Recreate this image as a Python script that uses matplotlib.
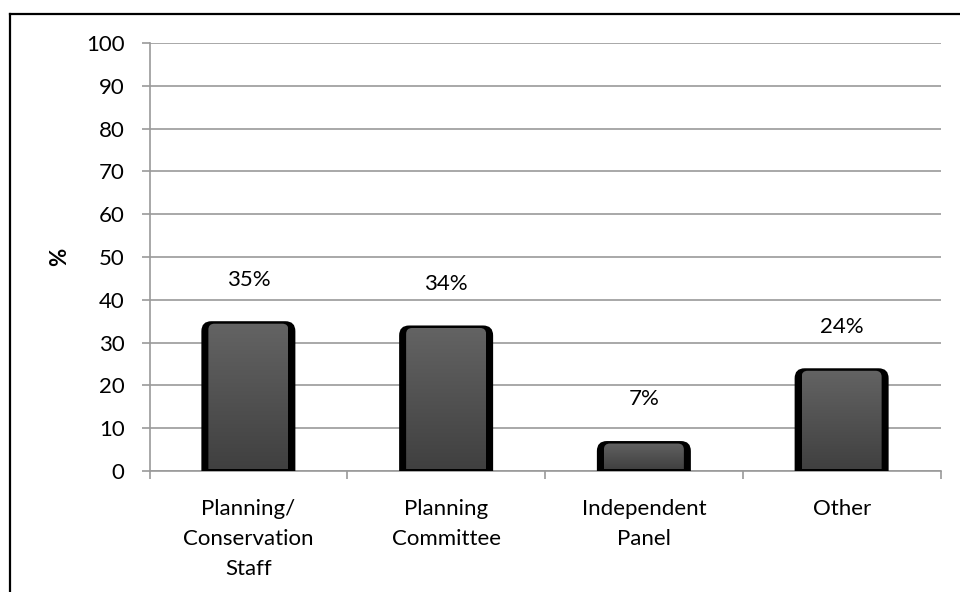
import numpy as np
import matplotlib.pyplot as plt
from matplotlib.patches import FancyBboxPatch
from matplotlib.lines import Line2D
from matplotlib.colors import LinearSegmentedColormap

categories = ['Planning/\nConservation\nStaff', 'Planning\nCommittee', 'Independent\nPanel', 'Other']
values = [35, 34, 7, 24]
value_labels = ['35%', '34%', '7%', '24%']
yticks = list(range(0, 101, 10))

plt.rcParams['font.family'] = ['Lato', 'DejaVu Sans']
fs = 16

fig = plt.figure(figsize=(9.6, 5.92), dpi=100)
ax = fig.add_axes([149.5 / 960, 1 - 471 / 592, 791 / 960, 428 / 592])
ax.set_xlim(-0.5, 3.5)
ax.set_ylim(0, 100)

# pixel scale of one data unit, used for rounded corners and edge widths
px_x = 791 / 4
px_y = 428 / 100
aspect = px_x / px_y

width = 94 / px_x
side = 7 / px_x
top = 2.5 / px_y
grad = np.linspace(0, 1, 256).reshape(-1, 1)
cmap = LinearSegmentedColormap.from_list('bar', ['#404040', '#646464'])

for i, v in enumerate(values):
    x0 = i - width / 2
    outer = FancyBboxPatch((x0, -5), width, v + 5,
                           boxstyle=f'round,pad=0,rounding_size={10 / px_x}',
                           mutation_aspect=aspect, fc='black', ec='none', zorder=3)
    ax.add_patch(outer)
    inner = FancyBboxPatch((x0 + side, -5), width - 2 * side, v + 5 - top,
                           boxstyle=f'round,pad=0,rounding_size={6 / px_x}',
                           mutation_aspect=aspect, fc='none', ec='none', zorder=4)
    ax.add_patch(inner)
    im = ax.imshow(grad, extent=[x0 + side, x0 + width - side, 2 / px_y, v],
                   origin='lower', cmap=cmap, aspect='auto', zorder=4)
    im.set_clip_path(inner)
    ax.annotate(value_labels[i], (i, v), xytext=(0, 30), textcoords='offset points',
                ha='center', va='center', fontsize=fs)

ax.set_xlim(-0.5, 3.5)
ax.set_ylim(0, 100)

grey = '#9a9a9a'
ax.set_yticks(yticks)
ax.yaxis.grid(True, color=grey, lw=1.2)
ax.set_axisbelow(True)
for s in ['top', 'right']:
    ax.spines[s].set_visible(False)
for s in ['left', 'bottom']:
    ax.spines[s].set_color(grey)
    ax.spines[s].set_linewidth(1.2)

ax.set_xticks(np.arange(-0.5, 4, 1))
ax.set_xticklabels([])
ax.set_xticks(range(len(categories)), minor=True)
ax.set_xticklabels(categories, minor=True)
ax.tick_params(axis='x', which='minor', length=0, pad=20, labelsize=fs)
ax.tick_params(axis='x', which='major', length=6, width=1.2, color=grey)
ax.tick_params(axis='y', length=6, width=1.2, color=grey, pad=12, labelsize=fs)
for t in ax.get_xticklabels(minor=True):
    t.set_linespacing(1.62)

ax.set_ylabel('%', fontsize=fs, fontweight='bold')
ax.yaxis.set_label_coords(-0.100, 0.5)

# outer chart frame
fig.add_artist(Line2D([10 / 960, 10 / 960], [0, 1 - 14 / 592], color='black', lw=1.6))
fig.add_artist(Line2D([10 / 960, 1], [1 - 14 / 592, 1 - 14 / 592], color='black', lw=1.6))

fig.savefig('out.png', dpi=100)
